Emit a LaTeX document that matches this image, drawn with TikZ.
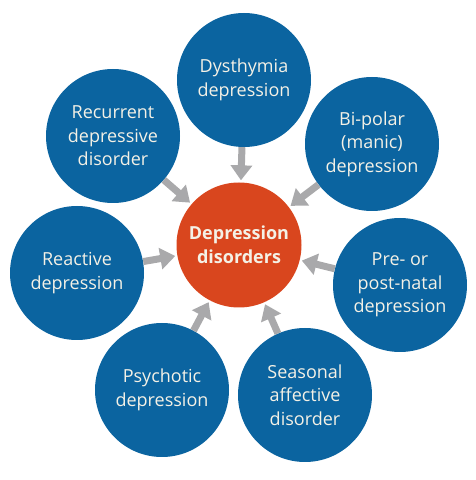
\documentclass[tikz,border=0pt]{standalone}
\usepackage{fontspec}
\setmainfont{Open Sans}
\usetikzlibrary{arrows.meta}
\definecolor{cblue}{HTML}{0B64A0}
\definecolor{corange}{HTML}{D9461E}
\definecolor{cgray}{HTML}{A9A9AB}
\definecolor{ctext}{HTML}{F4F1E6}
\tikzset{
  outer/.style={circle,fill=cblue,minimum size=134pt,inner sep=0pt,text=ctext,align=center,font=\fontsize{18}{23.5}\selectfont},
  hub/.style={circle,fill=corange,minimum size=125pt,inner sep=0pt,text=ctext,align=center,font=\fontsize{18}{24}\selectfont\bfseries},
  feed/.style={draw=cgray,line width=7pt,-{Triangle[width=21pt,length=15pt]},shorten >=2pt}
}
\begin{document}
\begin{tikzpicture}[x=1pt,y=1pt]
\useasboundingbox (0,0) rectangle (476,480);
\node[hub] (c) at (239,235) {Depression\\disorders};
\node[outer] (dys) at (244,400) {Dysthymia\\depression};
\node[outer] (bip) at (372,336) {Bi-polar\\(manic)\\depression};
\node[outer] (pre) at (400,195) {Pre- or\\post-natal\\depression};
\node[outer] (sea) at (305,85) {Seasonal\\affective\\disorder};
\node[outer] (psy) at (162,90) {Psychotic\\depression};
\node[outer] (rea) at (77,207) {Reactive\\depression};
\node[outer] (rec) at (113,344) {Recurrent\\depressive\\disorder};
\foreach \n in {dys,bip,pre,sea,psy,rea,rec}
  \draw[feed] (\n) -- (c);
\end{tikzpicture}
\end{document}
